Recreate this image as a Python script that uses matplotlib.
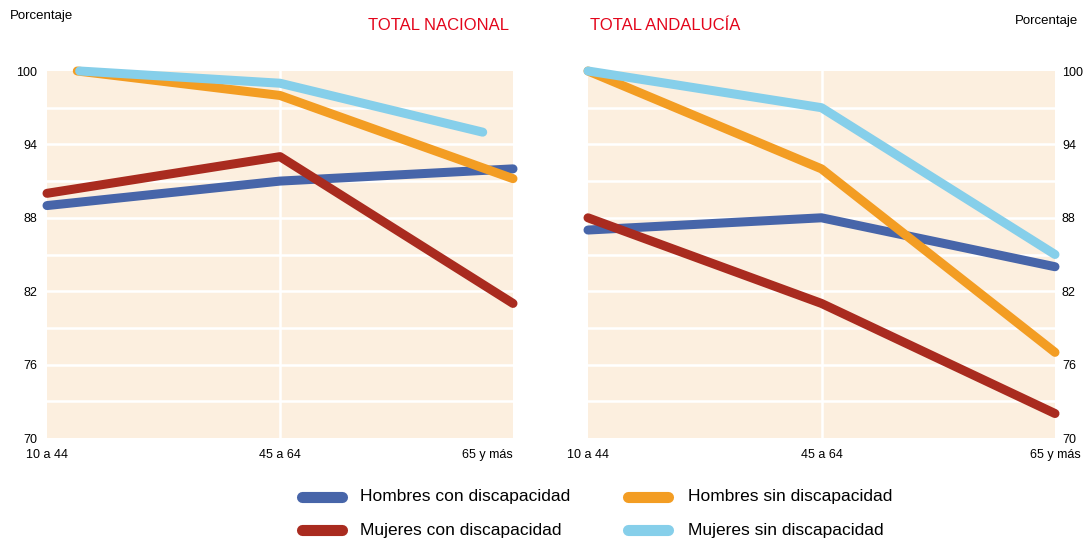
import matplotlib

matplotlib.use("Agg")
import matplotlib.pyplot as plt
from matplotlib.lines import Line2D

# categories / series
GRUPOS_EDAD = ["10 a 44", "45 a 64", "65 y más"]
Y_TICKS = [70, 76, 82, 88, 94, 100]
Y_GRID = [73, 76, 79, 82, 85, 88, 91, 94, 97]

SERIES = ["Hombres con discapacidad", "Mujeres con discapacidad",
          "Hombres sin discapacidad", "Mujeres sin discapacidad"]
COLORES = ["#4765A9", "#A92B1F", "#F39D23", "#86CFEA"]

# Total Nacional (las líneas del original no arrancan todas en la categoría)
NAC_X = {
    "Hombres con discapacidad": [0.0, 1.0, 2.0],
    "Mujeres con discapacidad": [0.0, 1.0, 2.0],
    "Hombres sin discapacidad": [0.13, 1.0, 2.0],
    "Mujeres sin discapacidad": [0.14, 1.0, 1.87],
}
NAC_HOMBRES_CON = [89.0, 91.0, 92.0]
NAC_MUJERES_CON = [90.0, 93.0, 81.0]
NAC_HOMBRES_SIN = [100.0, 98.0, 91.2]
NAC_MUJERES_SIN = [100.0, 99.0, 95.0]

# Total Andalucía
AND_X = [0.0, 1.0, 2.0]
AND_HOMBRES_CON = [87.0, 88.0, 84.0]
AND_MUJERES_CON = [88.0, 81.0, 72.0]
AND_HOMBRES_SIN = [100.0, 92.0, 77.0]
AND_MUJERES_SIN = [100.0, 97.0, 85.0]

FONDO = "#FCEFDF"
ROJO_TITULO = "#E3051B"
plt.rcParams["font.family"] = ["Liberation Sans", "DejaVu Sans"]

W, H = 1087, 538
fig = plt.figure(figsize=(W / 100, H / 100), dpi=100)
ax_nac = fig.add_axes([47 / W, 1 - 438 / H, 466 / W, 367 / H])
ax_and = fig.add_axes([588 / W, 1 - 438 / H, 467 / W, 367 / H])


def draw_panel(ax, xs, valores, lado):
    ax.set_facecolor(FONDO)
    ax.set_xlim(0, 2)
    ax.set_ylim(70, 100)
    for s in ax.spines.values():
        s.set_visible(False)
    for y in Y_GRID:
        ax.axhline(y, color="white", lw=1.8, zorder=1)
    ax.axvline(1, color="white", lw=1.8, zorder=1)
    for nombre, color, ys in zip(SERIES, COLORES, valores):
        x = xs[nombre] if isinstance(xs, dict) else xs
        ax.plot(x, ys, color=color, lw=6.5, solid_capstyle="round",
                solid_joinstyle="round", clip_on=False, zorder=3)
    ax.set_yticks(Y_TICKS)
    ax.set_yticklabels([str(t) for t in Y_TICKS], fontsize=9)
    ax.set_xticks([0, 1, 2])
    ax.set_xticklabels(GRUPOS_EDAD, fontsize=9)
    ax.tick_params(length=0)
    ax.tick_params(axis="x", pad=8)
    lbls = ax.get_xticklabels()
    if lado == "left":
        ax.tick_params(axis="y", pad=7)
        lbls[-1].set_horizontalalignment("right")
        lbls[-1].set_x(2.06)
    else:
        ax.yaxis.tick_right()
        ax.tick_params(axis="y", pad=5)


draw_panel(ax_nac, NAC_X,
           [NAC_HOMBRES_CON, NAC_MUJERES_CON, NAC_HOMBRES_SIN, NAC_MUJERES_SIN],
           "left")
draw_panel(ax_and, AND_X,
           [AND_HOMBRES_CON, AND_MUJERES_CON, AND_HOMBRES_SIN, AND_MUJERES_SIN],
           "right")

fig.text(509 / W, 1 - 25 / H, "TOTAL NACIONAL", color=ROJO_TITULO, fontsize=12,
         ha="right", va="center")
fig.text(590 / W, 1 - 25 / H, "TOTAL ANDALUCÍA", color=ROJO_TITULO, fontsize=12,
         ha="left", va="center")

fig.text(10 / W, 1 - 16 / H, "Porcentaje", fontsize=9.5, va="center", ha="left")
fig.text(1078 / W, 1 - 21 / H, "Porcentaje", fontsize=9.5, va="center", ha="right")

# leyenda en dos columnas (x0, x1 sin contar los extremos redondeados)
leg_x = [(302, 342, 360), (302, 342, 360), (628, 668, 688), (628, 668, 688)]
leg_y = [497, 530, 497, 530]
for nombre, color, (x0, x1, xt), y in zip(SERIES, COLORES, leg_x, leg_y):
    fig.add_artist(Line2D([x0 / W, x1 / W], [1 - y / H, 1 - y / H], color=color,
                          lw=8, solid_capstyle="round", transform=fig.transFigure))
    fig.text(xt / W, 1 - y / H, nombre, fontsize=12.5, va="center", ha="left")

fig.savefig("out.png", dpi=100)
